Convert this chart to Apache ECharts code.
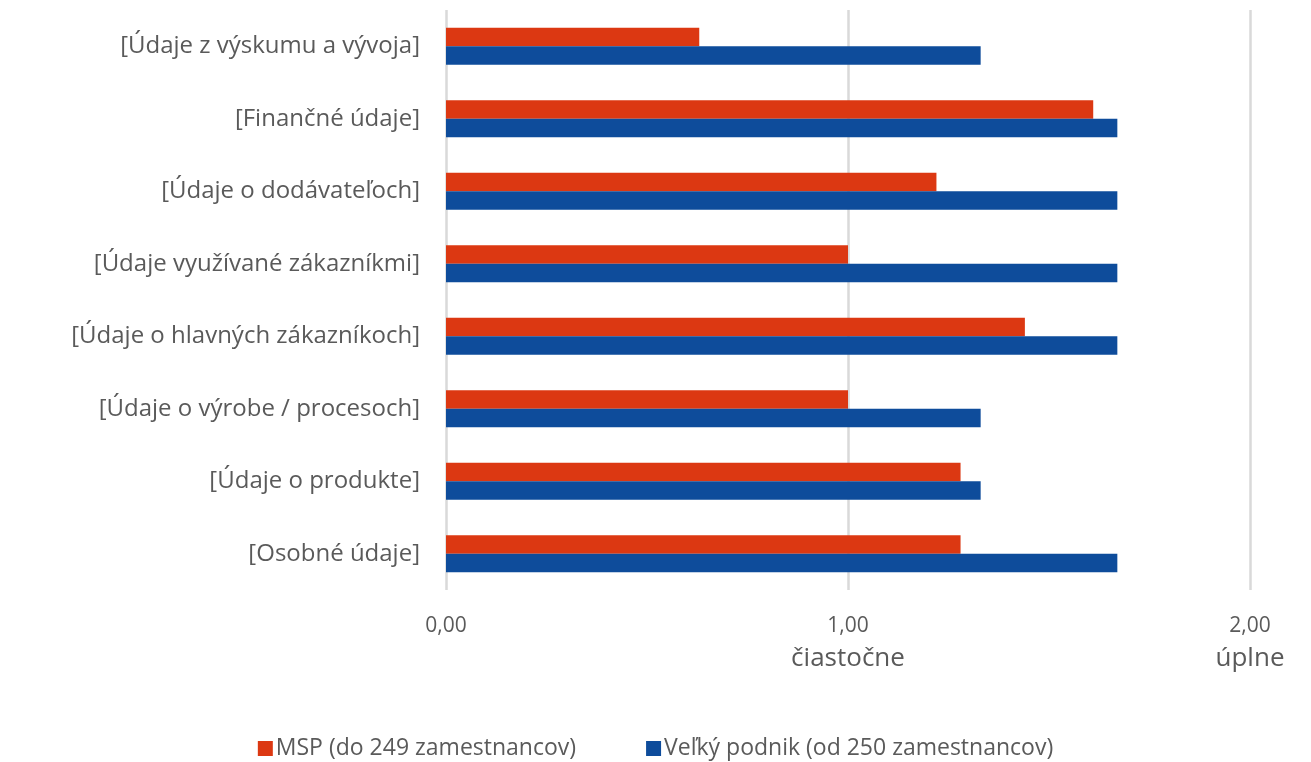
<!DOCTYPE html>
<html>
<head>
<meta charset="utf-8">
<script src="https://cdn.jsdelivr.net/npm/echarts@6/dist/echarts.min.js"></script>
<style>
  html, body { margin: 0; padding: 0; background: #ffffff; }
  #chart { width: 1311px; height: 762px; }
</style>
</head>
<body>
<div id="chart"></div>
<script>
// Data categories (top to bottom)
const categories = [
  '[Údaje z výskumu a vývoja]',
  '[Finančné údaje]',
  '[Údaje o dodávateľoch]',
  '[Údaje využívané zákazníkmi]',
  '[Údaje o hlavných zákazníkoch]',
  '[Údaje o výrobe / procesoch]',
  '[Údaje o produkte]',
  '[Osobné údaje]'
];

const seriesNames = ['MSP (do 249 zamestnancov)', 'Veľký podnik (od 250 zamestnancov)'];

// Average scores per category
const mspValues = [0.63, 1.61, 1.22, 1.00, 1.44, 1.00, 1.28, 1.28];
const largeValues = [1.33, 1.67, 1.67, 1.67, 1.67, 1.33, 1.33, 1.67];

// Value axis tick labels and their descriptions
const xTickValues = [0, 1, 2];
const xTickLabels = ['0,00', '1,00', '2,00'];
const xTickNotes = ['', 'čiastočne', 'úplne'];

const FONT = '"Open Sans", Lato, sans-serif';
const TEXT = '#5a5a5a';

const chart = echarts.init(document.getElementById('chart'));

chart.setOption({
  animation: false,
  textStyle: { fontFamily: FONT },
  grid: { left: 446, right: 61, top: 10, bottom: 172, containLabel: false },
  legend: {
    bottom: -3,
    left: 'center',
    itemWidth: 15,
    itemHeight: 15,
    itemGap: 70,
    icon: 'rect',
    textStyle: { fontFamily: FONT, fontSize: 23, color: TEXT, padding: [0, 0, 0, -2] },
    data: seriesNames
  },
  xAxis: {
    type: 'value',
    min: 0,
    max: 2,
    interval: 1,
    axisLine: { show: false },
    axisTick: { show: false },
    splitLine: { show: true, lineStyle: { color: '#d9d9d9', width: 2.5 } },
    axisLabel: {
      margin: 20,
      color: TEXT,
      fontFamily: FONT,
      fontSize: 21,
      lineHeight: 32,
      formatter: function (v) {
        const i = xTickValues.indexOf(v);
        if (i < 0) return '';
        return xTickNotes[i] ? xTickLabels[i] + '\n{note|' + xTickNotes[i] + '}' : xTickLabels[i];
      },
      rich: {
        note: { fontFamily: FONT, fontSize: 26, color: TEXT, lineHeight: 34 }
      }
    }
  },
  yAxis: {
    type: 'category',
    inverse: true,
    data: categories,
    axisLine: { show: false },
    axisTick: { show: false },
    axisLabel: {
      margin: 26,
      color: TEXT,
      fontFamily: FONT,
      fontSize: 24
    }
  },
  series: [
    {
      name: seriesNames[0],
      type: 'bar',
      data: mspValues,
      barWidth: 18.5,
      barGap: '0%',
      itemStyle: { color: '#dc3812' }
    },
    {
      name: seriesNames[1],
      type: 'bar',
      data: largeValues,
      barWidth: 18.5,
      barGap: '0%',
      itemStyle: { color: '#0e4c9b' }
    }
  ]
});
</script>
</body>
</html>
